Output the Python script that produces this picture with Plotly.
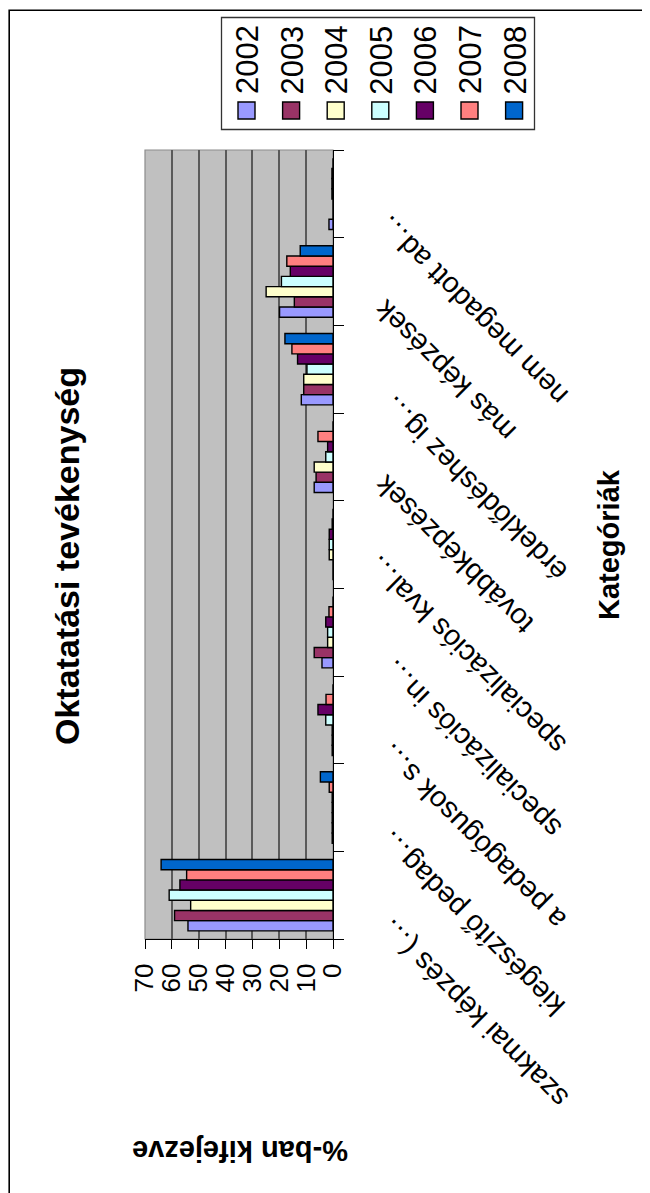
import plotly.graph_objects as go

# ---------------- data ----------------
categories = ["szakmai képzés (…", "kiegészítő pedag…", "a pedagógusok s…",
              "specializációs in…", "specializációs kval…", "továbbképzések",
              "érdeklődéshez ig…", "más képzések", "nem megadott ad…"]
years = ["2002", "2003", "2004", "2005", "2006", "2007", "2008"]
v2002 = [54.0, 0.3, 0.3, 4.1, 0.0, 7.0, 11.8, 19.9, 1.5]
v2003 = [59.0, 0.3, 0.3, 7.0, 0.0, 6.3, 10.9, 14.4, 0.0]
v2004 = [53.0, 0.3, 0.3, 2.0, 1.4, 7.0, 10.9, 24.9, 0.0]
v2005 = [61.0, 0.3, 2.7, 2.0, 1.4, 2.7, 9.7, 19.2, 0.4]
v2006 = [57.0, 0.3, 5.6, 2.7, 1.4, 2.0, 13.2, 15.9, 0.4]
v2007 = [54.5, 1.4, 2.6, 1.5, 0.3, 5.6, 15.3, 17.2, 0.4]
v2008 = [64.0, 4.7, 0.0, 0.0, 0.0, 0.0, 17.9, 12.2, 0.0]
series = [v2002, v2003, v2004, v2005, v2006, v2007, v2008]
value_ticks = [0, 10, 20, 30, 40, 50, 60, 70]

title_text = "Oktatatási tevékenység"
value_title = "%-ban kifejezve"
cat_title = "Kategóriák"

# ---------------- style ----------------
colors = ["#9999FF", "#993366", "#FFFFCC", "#CCFFFF", "#660066", "#FF8080", "#0066CC"]
FONT = "Liberation Sans, Arial, sans-serif"
W, H = 650, 1193
OFF = 8  # page body margin offset
PLOT_L, PLOT_R, PLOT_T, PLOT_B = 145, 333, 150, 939  # target page pixels
ML, MT = PLOT_L - OFF, PLOT_T - OFF
PW, PH = PLOT_R - PLOT_L, PLOT_B - PLOT_T
MR, MB = W - ML - PW, H - MT - PH


def px_x(px):
    return (px - PLOT_L) / PW


def px_y(py):
    return (PLOT_B - py) / PH


fig = go.Figure()
for yr, vals, col in zip(years, series, colors):
    fig.add_trace(go.Bar(
        y=categories, x=vals, name=yr, orientation="h",
        marker=dict(color=col, line=dict(color="black", width=1.4)),
        showlegend=False,
    ))

annotations = []
shapes = []

# category labels (rotated, upside down diagonal)
label_end_x = [390, 390, 390, 393, 377, 385, 393, 385, 388]
for i, (lab, ex) in enumerate(zip(categories, label_end_x)):
    annotations.append(dict(
        text=lab, xref="paper", yref="y", x=px_x(ex - 20), y=i,
        yshift=-(ex - 375.6), xanchor="left", yanchor="top",
        textangle=-135, showarrow=False,
        font=dict(family=FONT, size=29, color="black"),
    ))

# titles
annotations.append(dict(text="<b>%s</b>" % title_text, xref="paper", yref="paper",
                        x=px_x(67), y=px_y(556), textangle=-90, showarrow=False,
                        xanchor="center", yanchor="middle",
                        font=dict(family=FONT, size=34, color="black")))
annotations.append(dict(text="<b>%s</b>" % cat_title, xref="paper", yref="paper",
                        x=px_x(609), y=px_y(545), textangle=-90, showarrow=False,
                        xanchor="center", yanchor="middle",
                        font=dict(family=FONT, size=29, color="black")))
annotations.append(dict(text="<b>%s</b>" % value_title, xref="paper", yref="paper",
                        x=px_x(240), y=px_y(1151), textangle=180, showarrow=False,
                        xanchor="center", yanchor="middle",
                        font=dict(family=FONT, size=29, color="black")))

# legend (rotated layout)
shapes.append(dict(type="rect", xref="paper", yref="paper",
                   x0=px_x(221.5), x1=px_x(534.5), y0=px_y(17.5), y1=px_y(129.5),
                   line=dict(color="#333333", width=1.3), fillcolor="white", layer="above"))
for i, (yr, col) in enumerate(zip(years, colors)):
    cx = 246.5 + 44.6 * i
    shapes.append(dict(type="rect", xref="paper", yref="paper",
                       x0=px_x(cx - 8.5), x1=px_x(cx + 8.5),
                       y0=px_y(102), y1=px_y(119),
                       line=dict(color="black", width=1.4), fillcolor=col, layer="above"))
    annotations.append(dict(text=yr, xref="paper", yref="paper",
                            x=px_x(cx + 1.5), y=px_y(60), textangle=-90, showarrow=False,
                            xanchor="center", yanchor="middle",
                            font=dict(family=FONT, size=31, color="black")))

# plot area border
shapes.append(dict(type="rect", xref="paper", yref="paper", x0=0, x1=1, y0=0, y1=1,
                   line=dict(color="#8c8c8c", width=1.2), layer="below"))
# outer chart border (kept inside the drawable figure area)
shapes.append(dict(type="rect", xref="paper", yref="paper",
                   x0=px_x(9.2), x1=px_x(720), y0=px_y(1260), y1=px_y(10.2),
                   line=dict(color="black", width=1.6)))

fig.update_layout(
    width=W, height=H,
    margin=dict(l=ML, r=MR, t=MT, b=MB, pad=0),
    paper_bgcolor="white", plot_bgcolor="#C0C0C0",
    barmode="group", bargap=0.186, bargroupgap=0,
    font=dict(family=FONT, color="black"),
    annotations=annotations, shapes=shapes,
    showlegend=False,
)
fig.update_xaxes(
    range=[70, 0], tickvals=value_ticks, ticktext=[str(v) for v in value_ticks],
    tickangle=-90, tickfont=dict(family=FONT, size=26, color="black"),
    showgrid=True, gridcolor="#5a5a5a", gridwidth=1.5,
    showline=True, linecolor="black", linewidth=1.4,
    ticks="outside", ticklen=9, tickcolor="black", tickwidth=1.3,
    ticklabelstandoff=4, zeroline=False, fixedrange=True,
)
fig.update_yaxes(
    side="right", type="category", categoryorder="array", categoryarray=categories,
    range=[-0.5, len(categories) - 0.5], autorange=False,
    showticklabels=False, showgrid=False, zeroline=False,
    showline=True, linecolor="black", linewidth=1.4,
    ticks="outside", ticklen=10, tickcolor="black", tickwidth=1.3,
    tickson="boundaries", fixedrange=True,
)

fig.write_html("out.html", config={"displayModeBar": False})
